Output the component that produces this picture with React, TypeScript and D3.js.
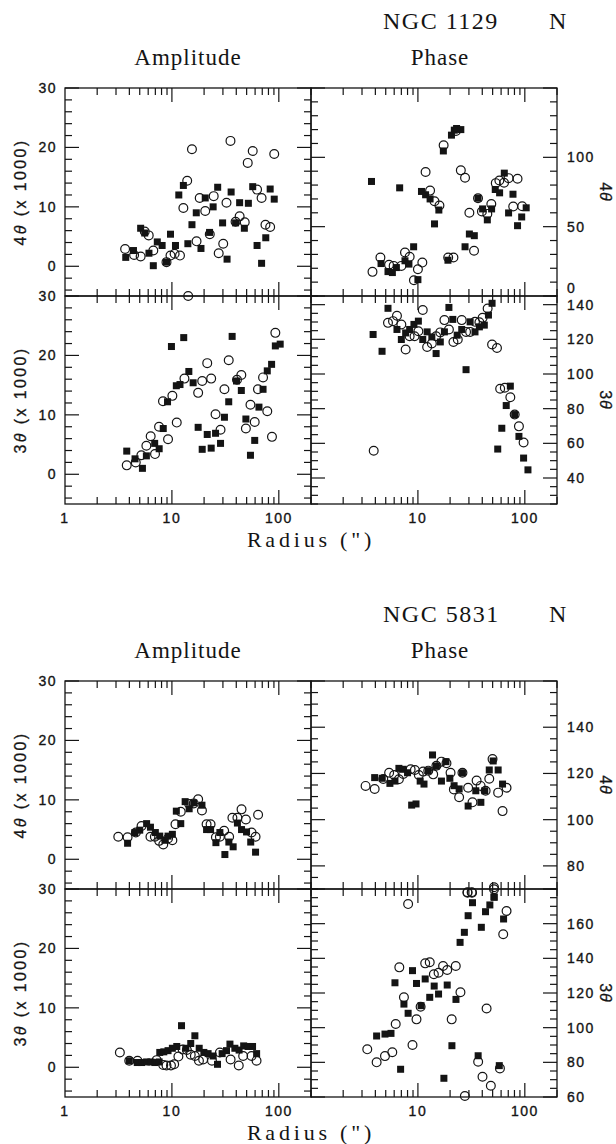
import * as d3 from 'd3';

// radius range shared by every panel (arcsec, log axis)
const R_DOMAIN: [number, number] = [1, 200];
const X_LABELS_LEFT = [1, 10, 100];
const X_LABELS_RIGHT = [10, 100];

// ---- NGC 1129 : [radius, value] ----
const n1129Amp4Circ = [[3.65,2.9],[4.43,1.9],[5.1,1.65],[5.57,5.85],[6.07,5.2],[6.7,2.65],[8.9,0.7],[9.7,1.8],[10.6,2.1],[11.9,1.8],[12.8,9.8],[13.9,14.4],[15.4,19.7],[17.0,4.2],[18.2,11.5],[20.5,9.3],[22.6,5.4],[24.6,11.8],[27.4,2.2],[30.2,3.8],[32.4,10.7],[35.3,21.1],[39.4,7.5],[43.0,8.4],[48.0,7.4],[51.2,17.4],[57.0,19.4],[62.6,12.9],[69.0,11.5],[75,7.0],[83,6.6],[90.6,18.9]];
const n1129Amp4Sq = [[3.7,1.5],[4.37,2.65],[5.1,6.4],[5.57,5.6],[6.1,2.2],[6.7,0.1],[7.3,4.1],[8.1,3.5],[8.9,0.7],[9.7,5.4],[10.8,3.5],[11.6,12.0],[12.8,13.6],[14.1,3.8],[15.4,7.0],[16.9,9.0],[18.7,3.0],[20.5,11.5],[22.5,5.7],[24.3,10.0],[26.8,13.3],[29.8,7.3],[32.8,1.2],[35.8,12.5],[39.4,7.3],[43.0,10.7],[47.6,6.4],[51.9,10.6],[57.0,13.4],[62.6,3.5],[69.0,0.5],[75.5,4.8],[83,13.0],[90.6,11.3]];
const n1129Ph4Circ = [[3.76,17.4],[4.46,27.8],[5.37,22.5],[5.93,21.7],[7.0,21.7],[7.57,31.4],[8.37,28.3],[9.18,11.4],[10.0,19.3],[11.0,24.1],[11.8,89.4],[13.0,76],[14.3,68.3],[15.9,65.2],[17.4,108.7],[19.2,27.8],[21.5,27.8],[22.7,119],[25.2,90.6],[27.6,85.3],[30.3,60],[33.5,32.6],[36.5,70.5],[39.7,60.9],[44.6,59.2],[48.6,66.4],[53.5,81.4],[57.8,83.3],[63.9,81.7],[70.5,85],[77.9,64.5],[85.5,84.6],[94.5,64.7]];
const n1129Ph4Sq = [[3.68,82.6],[4.52,23.4],[5.25,17.6],[5.77,16.9],[6.29,20.5],[6.75,78],[7.57,25.4],[8.24,23],[9.12,35.5],[10.0,11.8],[10.8,75.4],[11.8,73],[13.0,70],[14.3,52],[15.7,62],[17.3,104.6],[19.1,25.8],[20.6,116],[21.9,119.6],[23.0,120.8],[25.2,120],[27.6,35.5],[30.3,44.7],[33.7,43.5],[36.5,70.5],[40.3,62.8],[44.6,54.9],[48.9,62.8],[52.9,76.8],[58.1,74.4],[64.3,88.6],[70.5,59.9],[77.5,73.4],[85.5,50.7],[93.5,57],[103,63.6]];
const n1129Amp3Circ = [[3.78,1.5],[4.59,2.0],[5.18,3.2],[5.77,4.8],[6.33,6.4],[6.95,3.4],[7.58,8.0],[8.25,12.3],[9.2,5.9],[10.1,13.2],[11.1,8.7],[13.1,16.1],[14.2,30],[17.6,13.7],[19.2,15.7],[21.4,18.7],[23.3,16.1],[25.6,10.1],[28.5,7.5],[31,14.3],[34.0,19.2],[40.6,15.9],[44.6,16.7],[49.2,7.7],[54.3,11.7],[59.5,8.8],[63.8,14.3],[71.2,16.3],[78,10.6],[86.3,6.3],[92.8,23.8]];
const n1129Amp3Sq = [[3.78,3.9],[4.52,2.6],[5.3,1.0],[5.77,3.1],[6.9,5.2],[7.6,4.3],[8.3,7.7],[9.1,12.2],[9.9,21.5],[11.0,14.9],[11.9,15.1],[12.9,23.0],[14.4,17.3],[15.8,15.4],[17.6,7.9],[19.2,4.2],[21.4,6.7],[23.3,4.4],[25.6,6.9],[28.5,5.2],[31,9.6],[34.0,12.2],[36.6,23.2],[40.2,15.7],[44.6,14.1],[49.2,9.3],[54.3,3.2],[59.5,5.7],[65.2,11.3],[71.2,14.3],[78,17.4],[85.6,18.5],[92.8,21.6],[103,21.9]];
const n1129Ph3Circ = [[3.86,55.7],[5.25,129.5],[5.85,130.5],[6.37,133.6],[7.0,128.6],[7.68,114.1],[8.37,121.8],[9.3,121.8],[10.1,124.7],[11.1,136.9],[12.2,115.6],[13.5,117.6],[14.8,121.8],[16.2,124],[17.7,131.1],[19.5,125.7],[21.5,118.5],[23.6,119.9],[25.7,131.1],[28.2,124.3],[30.8,124.3],[34.2,130.1],[37.6,129.8],[40.3,132.4],[44.9,137.8],[49.4,117],[54.9,115],[58.8,91.5],[65,92.1],[73.2,86.6],[80.4,76.6],[88.1,69.8],[97.4,60.5]];
const n1129Ph3Sq = [[3.81,122.8],[4.62,113.1],[5.25,137.9],[6.37,125.7],[7.0,119.9],[7.68,123.7],[8.37,125.7],[9.18,128.6],[10.1,130.5],[11.1,119.9],[12.2,124.3],[13.5,121.4],[14.8,111.8],[16.2,118.5],[17.7,124.3],[19.5,138.4],[21.2,131.5],[23.3,122.4],[25.7,125.7],[28.2,102.5],[30.8,130.1],[34.2,124.3],[37.6,127.2],[41.8,128.2],[45.7,134],[49.4,140.8],[55.8,56.7],[60.9,68.7],[67,81.8],[73.2,93],[80.4,76.6],[88.1,64],[97.4,51.5],[107,44.7]];

// ---- NGC 5831 : [radius, value] ----
const n5831Amp4Circ = [[3.15,3.8],[3.85,3.7],[4.6,4.5],[5.2,5.6],[6.3,3.8],[6.93,3.8],[7.6,3.1],[8.3,2.5],[9.2,3.5],[10.1,3.2],[10.8,5.9],[12.1,8.0],[14.5,9.3],[16.0,9.4],[17.6,10.1],[19.1,8.2],[21.1,5.9],[23.0,5.9],[25.8,3.7],[28.1,3.8],[30.8,4.8],[34.3,3.8],[36.8,7.0],[41.0,7.0],[44.8,8.4],[49.2,6.7],[55.6,4.5],[60.6,3.8],[64.0,7.5]];
const n5831Amp4Sq = [[3.85,2.7],[4.5,4.5],[5.0,4.9],[5.8,6.0],[6.3,5.4],[7.0,4.5],[7.7,3.9],[8.6,3.2],[9.2,3.9],[10.1,4.2],[11.0,8.1],[12.1,6.0],[13.3,9.7],[14.5,8.5],[16.0,9.5],[19.1,9.1],[21.1,5.0],[23.0,5.0],[25.8,2.8],[28.1,4.5],[31.3,0.8],[34.1,2.9],[37.4,2.1],[41.0,6.1],[44.8,5.0],[49.9,4.6],[54.6,2.9],[60.6,1.2]];
const n5831Ph4Circ = [[3.24,114.6],[3.94,113.3],[4.74,117.6],[5.38,120.3],[6.0,119.3],[6.64,117.5],[7.3,119.8],[8.55,121.8],[9.37,121.5],[10.2,119.3],[11.2,120.8],[12.5,121.2],[13.9,119.6],[14.9,123.3],[16.6,125.1],[18.5,124.4],[20.2,120.3],[21.7,113.1],[24.3,109.7],[26.1,120.3],[29.5,113.8],[32.4,107.5],[35.4,116.9],[38.6,114.6],[43.0,112.5],[46.5,117.7],[49.9,126.2],[56.3,111.7],[61.9,103.7],[67.5,113.8],[29.1,68.6],[31.8,68.6],[51.5,69.9]];
const n5831Ph4Sq = [[3.94,118.2],[4.64,117.9],[5.47,115.7],[6.1,116.7],[6.64,122.2],[7.3,121.8],[8.0,120.3],[8.74,106.3],[9.6,106.8],[10.5,116.7],[11.4,115.4],[12.5,121.2],[13.7,128],[14.9,123.2],[16.6,116.7],[18.3,125.1],[19.9,117.9],[21.8,114.7],[24.3,113.3],[26.1,120.3],[29.5,105.9],[34.8,112.5],[38.8,107.5],[42.2,112.5],[46.5,121.5],[50.6,125.4],[56.3,121.5],[61.9,115.4],[51.5,66.6]];
const n5831Amp3Circ = [[3.26,2.5],[3.99,1.1],[4.77,1.1],[7.2,1.2],[8.3,0.4],[8.9,0.3],[9.8,0.3],[10.5,0.5],[11.5,1.8],[12.6,3.0],[13.8,2.9],[15.0,2.1],[16.4,1.9],[17.9,1.1],[19.6,1.3],[23.7,1.1],[28.1,2.5],[35.4,1.3],[42.2,0.3],[46.4,1.9],[55.6,1.9],[61.9,1.1]];
const n5831Amp3Sq = [[3.99,1.1],[4.74,0.8],[5.2,0.8],[5.8,0.9],[6.36,0.9],[6.93,0.8],[7.6,0.9],[7.7,2.5],[8.4,2.6],[9.2,2.8],[10.1,3.2],[11.1,3.5],[12.3,7.0],[13.5,3.2],[15.0,4.0],[16.4,5.3],[18.0,3.2],[19.9,2.5],[21.8,2.3],[24.3,1.9],[26.7,0.5],[29.5,2.3],[32.4,2.8],[34.9,3.9],[38.8,3.2],[42.5,2.9],[46.9,3.6],[51.6,3.5],[56.8,3.5],[62,2.3]];
const n5831Ph3Circ = [[3.36,87.5],[4.11,80],[4.92,83.6],[5.76,85.8],[6.2,102.1],[6.7,134.8],[7.4,117.5],[8.1,171.3],[8.9,90],[9.7,104.8],[10.6,112.1],[11.7,137.1],[12.9,137.7],[14.1,130.8],[15.6,131.7],[17.2,135.6],[18.8,133.3],[20.7,104.8],[22.6,135.6],[25.0,120.4],[27.5,60.6],[29.1,177.9],[32.1,177.9],[36.6,80.3],[40.2,71.7],[43.9,111.1],[48.1,66.5],[51.5,181],[58.5,76.5],[62.8,153.9],[67.5,167.3]];
const n5831Ph3Sq = [[4.11,95.2],[4.92,96.3],[5.6,96.7],[6.1,125.9],[6.89,76],[7.4,113.6],[8.1,108.3],[8.9,132.9],[9.7,125.5],[10.7,112.7],[11.7,128.1],[12.9,117.5],[14.2,124],[15.6,119.4],[17.5,70.8],[18.8,124.6],[20.8,89.6],[22.7,116.3],[24.8,149.2],[27.2,155],[29.5,164.6],[32.4,172.1],[36.6,83.8],[39.2,157.9],[42.9,166.9],[47.1,170.8],[51.7,175.2],[57.7,78.1],[63.3,162.7]];

// axis settings: [lo, hi] and labelled values
const AMP_DOMAIN: [number, number] = [-5, 30];
const AMP_LABELS = [0, 10, 20, 30];
const PH4_1129_DOMAIN: [number, number] = [0, 150];
const PH4_1129_LABELS = [0, 50, 100];
const PH3_1129_DOMAIN: [number, number] = [25, 145];
const PH3_1129_LABELS = [40, 60, 80, 100, 120, 140];
const PH4_5831_DOMAIN: [number, number] = [70, 160];
const PH4_5831_LABELS = [80, 100, 120, 140];
const PH3_5831_DOMAIN: [number, number] = [60, 180];
const PH3_5831_LABELS = [60, 80, 100, 120, 140, 160];

const W = 616, H = 1144;
const LX = 65, RX = 311, PW = 246, PH = 208;
const INK = '#141414';
const SANS = '"Liberation Sans", Arial, sans-serif';
const SERIF = '"Liberation Serif", "Times New Roman", serif';
const MAJ = 14, MIN = 7;

function logTicks() {
  const out: { v: number; major: boolean }[] = [];
  [1, 10, 100].forEach((d) => {
    for (let k = 1; k <= 9; k++) {
      const v = d * k;
      if (v > R_DOMAIN[0] && v < R_DOMAIN[1] + 1e-9) out.push({ v, major: k === 1 });
    }
  });
  return out;
}

function Panel(props: any) {
  const { x0, y0, domain, major, minor, labels, side, circles, squares, xLabels, liftBottom } = props;
  const x = d3.scaleLog().domain(R_DOMAIN).range([x0, x0 + PW]);
  const y = d3.scaleLinear().domain(domain).range([y0 + PH, y0]);
  const yt = d3.range(Math.ceil(domain[0] / minor) * minor, domain[1] + 1e-9, minor)
    .map((v) => ({ v, major: Math.abs(v / major - Math.round(v / major)) < 1e-9 }));
  const xt = logTicks();
  const lines: JSX.Element[] = [];
  xt.forEach((t, i) => {
    const L = t.major ? MAJ : MIN;
    const px = x(t.v);
    lines.push(<line key={'b' + i} x1={px} x2={px} y1={y0 + PH} y2={y0 + PH - L} />);
    lines.push(<line key={'t' + i} x1={px} x2={px} y1={y0} y2={y0 + L} />);
  });
  yt.forEach((t, i) => {
    const L = t.major ? MAJ : MIN;
    const py = y(t.v);
    lines.push(<line key={'l' + i} x1={x0} x2={x0 + L} y1={py} y2={py} />);
    lines.push(<line key={'r' + i} x1={x0 + PW} x2={x0 + PW - L} y1={py} y2={py} />);
  });
  const S = 7, CR = 4.4;
  return (
    <g>
      <rect x={x0} y={y0} width={PW} height={PH} fill="none" stroke={INK} strokeWidth={1.3} />
      <g stroke={INK} strokeWidth={1.2}>{lines}</g>
      {labels.map((v: number) => (
        <text key={'yl' + v} x={side === 'left' ? x0 - 8 : x0 + PW + 10}
          y={y(v) - (liftBottom && v === domain[0] ? 8 : 0)} dy="0.36em"
          textAnchor={side === 'left' ? 'end' : 'start'} fontFamily={SANS} fontSize={14}
          letterSpacing={1.5} fill={INK} stroke={INK} strokeWidth={0.35}>{v}</text>
      ))}
      {xLabels && xLabels.map((v: number) => (
        <text key={'xl' + v} x={x(v)} y={y0 + PH + 14} dy="0.36em" textAnchor="middle"
          fontFamily={SANS} fontSize={14} letterSpacing={1.5} fill={INK} stroke={INK} strokeWidth={0.35}>{v}</text>
      ))}
      {squares.map((d: number[], i: number) => (
        <rect key={'s' + i} x={x(d[0]) - S / 2} y={y(d[1]) - S / 2} width={S} height={S} fill={INK} />
      ))}
      {circles.map((d: number[], i: number) => (
        <circle key={'c' + i} cx={x(d[0])} cy={y(d[1])} r={CR} fill="none" stroke={INK} strokeWidth={1.2} />
      ))}
    </g>
  );
}

function YTitle({ x, y, n, left }: any) {
  return (
    <text transform={`translate(${x},${y}) rotate(${left ? -90 : 90})`} textAnchor="middle" dy="0.36em"
      fontFamily={SANS} fontSize={16} letterSpacing={left ? 2.4 : 1} fill={INK} stroke={INK} strokeWidth={0.3}>
      {n}<tspan fontStyle="italic">θ</tspan>{left ? ' (x 1000)' : ''}
    </text>
  );
}

function Figure({ top, name, amp4, ph4, amp3, ph3 }: any) {
  const mid = top + PH, bot = top + 2 * PH;
  return (
    <g>
      <text x={383} y={top - 68} dy="0.36em" fontFamily={SERIF} fontSize={24} letterSpacing={1.5} fill={INK}>{name}</text>
      <text x={549} y={top - 68} dy="0.36em" fontFamily={SERIF} fontSize={24} fill={INK}>N</text>
      <text x={LX + PW / 2} y={top - 31} dy="0.36em" textAnchor="middle" fontFamily={SERIF} fontSize={23} letterSpacing={1} fill={INK}>Amplitude</text>
      <text x={RX + PW / 2 + 6} y={top - 31} dy="0.36em" textAnchor="middle" fontFamily={SERIF} fontSize={23} letterSpacing={1} fill={INK}>Phase</text>
      <Panel x0={LX} y0={top} {...amp4} side="left" />
      <Panel x0={RX} y0={top} {...ph4} side="right" liftBottom />
      <Panel x0={LX} y0={mid} {...amp3} side="left" xLabels={X_LABELS_LEFT} />
      <Panel x0={RX} y0={mid} {...ph3} side="right" xLabels={X_LABELS_RIGHT} />
      <YTitle x={20} y={top + PH / 2} n="4" left />
      <YTitle x={20} y={mid + PH / 2} n="3" left />
      <YTitle x={606} y={top + PH / 2} n="4" />
      <YTitle x={606} y={mid + PH / 2} n="3" />
      <text x={311} y={bot + 35} dy="0.36em" textAnchor="middle" fontFamily={SERIF} fontSize={22} letterSpacing={3.8} fill={INK}>Radius (")</text>
    </g>
  );
}

export default function App() {
  const amp = { domain: AMP_DOMAIN, major: 10, minor: 2, labels: AMP_LABELS };
  return (
    <svg width={W} height={H} style={{ position: 'absolute', left: 0, top: 0, background: '#fff' }}>
      <rect width={W} height={H} fill="#fff" />
      <Figure top={88} name="NGC 1129"
        amp4={{ ...amp, circles: n1129Amp4Circ, squares: n1129Amp4Sq }}
        ph4={{ domain: PH4_1129_DOMAIN, major: 50, minor: 10, labels: PH4_1129_LABELS, circles: n1129Ph4Circ, squares: n1129Ph4Sq }}
        amp3={{ ...amp, circles: n1129Amp3Circ, squares: n1129Amp3Sq }}
        ph3={{ domain: PH3_1129_DOMAIN, major: 20, minor: 5, labels: PH3_1129_LABELS, circles: n1129Ph3Circ, squares: n1129Ph3Sq }} />
      <Figure top={681} name="NGC 5831"
        amp4={{ ...amp, circles: n5831Amp4Circ, squares: n5831Amp4Sq }}
        ph4={{ domain: PH4_5831_DOMAIN, major: 20, minor: 5, labels: PH4_5831_LABELS, circles: n5831Ph4Circ, squares: n5831Ph4Sq }}
        amp3={{ ...amp, circles: n5831Amp3Circ, squares: n5831Amp3Sq }}
        ph3={{ domain: PH3_5831_DOMAIN, major: 20, minor: 5, labels: PH3_5831_LABELS, circles: n5831Ph3Circ, squares: n5831Ph3Sq }} />
    </svg>
  );
}
